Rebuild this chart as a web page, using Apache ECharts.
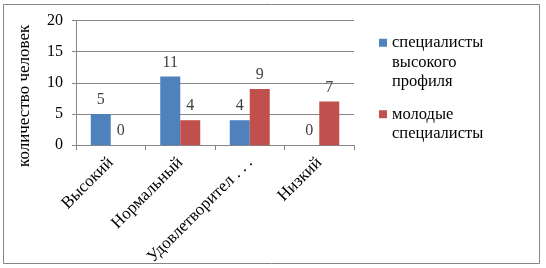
<!DOCTYPE html>
<html>
<head>
<meta charset="utf-8">
<script src="https://cdn.jsdelivr.net/npm/echarts@6/dist/echarts.min.js"></script>
<style>
  html, body { margin: 0; padding: 0; background: #fff; }
  #main { width: 546px; height: 268px; }
</style>
</head>
<body>
<div id="main"></div>
<script>
// категории и значения
var categories = ['Высокий', 'Нормальный', 'Удовлетворительный', 'Низкий'];
var seriesNames = ['специалисты высокого профиля', 'молодые специалисты'];
var highProfile = [5, 11, 4, 0];
var young = [0, 4, 9, 7];
var yTicks = [0, 5, 10, 15, 20];

var fontSerif = 'Liberation Serif';

var myChart = echarts.init(document.getElementById('main'));

// подпись легенды: пустые строки сверху, чтобы маркер стоял у первой строки
function legendText(lines) {
  var pad = [];
  for (var i = 1; i < lines.length; i++) pad.push('');
  return pad.concat(lines).join('\n');
}

var option = {
  animation: false,
  textStyle: { fontFamily: fontSerif },
  // рамка вокруг диаграммы
  graphic: [{
    type: 'rect',
    shape: { x: 3.5, y: 4.5, width: 536, height: 259 },
    style: { fill: 'none', stroke: '#868686', lineWidth: 1 },
    silent: true
  }],
  legend: [{
    left: 379,
    top: -6,
    padding: 0,
    orient: 'vertical',
    itemWidth: 8,
    itemHeight: 8,
    icon: 'rect',
    data: [seriesNames[0]],
    formatter: function () {
      return legendText(['специалисты', 'высокого', 'профиля']);
    },
    textStyle: { fontFamily: fontSerif, fontSize: 16.5, lineHeight: 19.5, color: '#000' }
  }, {
    left: 379,
    top: 85,
    padding: 0,
    orient: 'vertical',
    itemWidth: 8,
    itemHeight: 8,
    icon: 'rect',
    data: [seriesNames[1]],
    formatter: function () {
      return legendText(['молодые', 'специалисты']);
    },
    textStyle: { fontFamily: fontSerif, fontSize: 16.5, lineHeight: 19.5, color: '#000' }
  }],
  grid: {
    left: 76,
    right: 192,
    top: 20.5,
    bottom: 121
  },
  xAxis: {
    type: 'category',
    data: categories,
    boundaryGap: true,
    axisLine: { lineStyle: { color: '#868686', width: 1 } },
    axisTick: { show: true, length: 5, lineStyle: { color: '#868686' } },
    axisLabel: {
      rotate: 45,
      margin: 15,
      interval: 0,
      fontFamily: fontSerif,
      fontSize: 17,
      color: '#000',
      formatter: function (v) {
        return v.length > 14 ? v.slice(0, 14) + ' . . .' : v;
      }
    }
  },
  yAxis: {
    type: 'value',
    min: yTicks[0],
    max: yTicks[yTicks.length - 1],
    interval: 5,
    name: 'количество человек',
    nameLocation: 'middle',
    nameRotate: 90,
    nameGap: 43,
    nameMoveOverlap: false,
    nameTextStyle: {
      fontFamily: fontSerif,
      fontSize: 17,
      color: '#000',
      padding: [0, 26, 0, 0]
    },
    axisLine: { show: true, lineStyle: { color: '#868686', width: 1 } },
    axisTick: { show: true, length: 4, lineStyle: { color: '#868686' } },
    splitLine: { lineStyle: { color: '#868686', width: 1 } },
    axisLabel: {
      margin: 13,
      fontFamily: fontSerif,
      fontSize: 16,
      color: '#000'
    }
  },
  series: [{
    name: seriesNames[0],
    type: 'bar',
    data: highProfile,
    barWidth: 20,
    barGap: '0%',
    itemStyle: { color: '#4F81BD' },
    label: {
      show: true,
      position: 'top',
      distance: 6,
      fontFamily: fontSerif,
      fontSize: 16,
      color: '#404040'
    }
  }, {
    name: seriesNames[1],
    type: 'bar',
    data: young,
    barWidth: 20,
    barGap: '0%',
    itemStyle: { color: '#C0504D' },
    label: {
      show: true,
      position: 'top',
      distance: 6,
      fontFamily: fontSerif,
      fontSize: 16,
      color: '#404040'
    }
  }]
};

myChart.setOption(option);
window.addEventListener('resize', function () {
  myChart.resize();
});
</script>
</body>
</html>
